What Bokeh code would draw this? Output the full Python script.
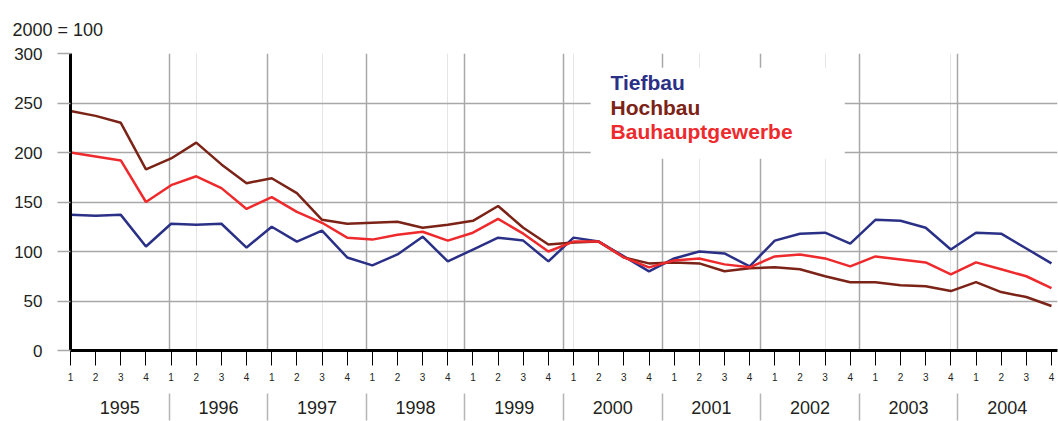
from bokeh.plotting import figure
from bokeh.models import Range1d, FixedTicker, LinearAxis, Label, BoxAnnotation, Grid, Title
from bokeh.embed import file_html
from bokeh.resources import INLINE

years = ["1995", "1996", "1997", "1998", "1999", "2000", "2001", "2002", "2003", "2004"]
quarters = ["1", "2", "3", "4"]
y_ticks = [0, 50, 100, 150, 200, 250, 300]

tiefbau = [137, 136, 137, 105,
           128, 127, 128, 104,
           125, 110, 121, 94,
           86, 97, 115, 90,
           102, 114, 111, 90,
           114, 110, 95, 80,
           93, 100, 98, 85,
           111, 118, 119, 108,
           132, 131, 124, 102,
           119, 118, 103, 88]

hochbau = [242, 237, 230, 183,
           194, 210, 188, 169,
           174, 159, 132, 128,
           129, 130, 124, 127,
           131, 146, 124, 107,
           109, 110, 94, 88,
           89, 88, 80, 83,
           84, 82, 75, 69,
           69, 66, 65, 60,
           69, 59, 54, 45]

bauhaupt = [200, 196, 192, 150,
            167, 176, 164, 143,
            155, 140, 129, 114,
            112, 117, 120, 111,
            119, 133, 118, 100,
            110, 110, 94, 84,
            91, 93, 87, 84,
            95, 97, 93, 85,
            95, 92, 89, 77,
            89, 82, 75, 63]

series_names = ["Tiefbau", "Hochbau", "Bauhauptgewerbe"]
series_colors = ["#2b3087", "#7b2316", "#ee2a2d"]

FONT = "Liberation Sans"
TXT = "#231f20"
GRID = "#a8a8a8"

n = len(tiefbau)
xs = list(range(n))
year_w = 3.92  # visual width of a year block in quarter units (as in the original)
boundaries = [round(k * year_w, 2) for k in range(1, len(years))]
centers = [round(k * year_w + year_w / 2, 2) for k in range(len(years))]

p = figure(width=1058, height=421, output_backend="svg", toolbar_location=None,
           x_range=Range1d(0, 39.24), y_range=Range1d(0, 300),
           x_axis_location=None, title="2000 = 100",
           min_border_left=70, min_border_right=1, min_border_top=53, min_border_bottom=71)
p.outline_line_color = None
p.background_fill_color = "white"
p.border_fill_color = "white"

p.title.align = "left"
p.title.offset = -58
p.title.standoff = 28
p.title.text_font = FONT
p.title.text_font_size = "18px"
p.title.text_font_style = "normal"
p.title.text_color = TXT

# y axis
ya = p.yaxis[0]
ya.ticker = FixedTicker(ticks=y_ticks)
ya.axis_line_color = "black"
ya.axis_line_width = 3
ya.major_tick_in = 0
ya.major_tick_out = 13
ya.major_tick_line_color = GRID
ya.major_tick_line_width = 1.5
ya.minor_tick_line_color = None
ya.major_label_text_font = FONT
ya.major_label_text_font_size = "17px"
ya.major_label_text_color = TXT
ya.major_label_standoff = 15

p.ygrid.ticker = FixedTicker(ticks=y_ticks)
p.ygrid.grid_line_color = GRID
p.ygrid.grid_line_width = 1.5

vgrid = Grid(dimension=0, ticker=FixedTicker(ticks=boundaries),
             grid_line_color=GRID, grid_line_width=1.5)
p.add_layout(vgrid)

# quarter axis
qa = LinearAxis(ticker=FixedTicker(ticks=xs),
                major_label_overrides={i: quarters[i % 4] for i in xs})
qa.axis_line_color = "black"
qa.axis_line_width = 3
qa.major_tick_in = 0
qa.major_tick_out = 15
qa.major_tick_line_color = "black"
qa.major_tick_line_width = 1
qa.minor_tick_line_color = None
qa.major_label_text_font = FONT
qa.major_label_text_font_size = "10px"
qa.major_label_text_color = TXT
qa.major_label_standoff = 7
p.add_layout(qa, "below")

# year axis (minor ticks act as year separators)
ya2 = LinearAxis(ticker=FixedTicker(ticks=centers, minor_ticks=boundaries),
                 major_label_overrides={c: years[i] for i, c in enumerate(centers)})
ya2.axis_line_color = None
ya2.major_tick_in = 0
ya2.major_tick_out = 0
ya2.major_tick_line_color = None
ya2.minor_tick_in = -10
ya2.minor_tick_out = 37
ya2.minor_tick_line_color = "#b5b5b5"
ya2.minor_tick_line_width = 1.5
ya2.major_label_text_font = FONT
ya2.major_label_text_font_size = "18px"
ya2.major_label_text_color = TXT
ya2.major_label_standoff = -20
p.add_layout(ya2, "below")

# lines
for vals, col in zip([tiefbau, hochbau, bauhaupt], series_colors):
    p.line(xs, vals, line_color=col, line_width=2.5)

# legend box (white, interrupting grid)
p.add_layout(BoxAnnotation(left=20.68, right=30.78, top=285.6, bottom=193.7,
                           fill_color="white", fill_alpha=1.0, line_color=None))

for i, (name, col) in enumerate(zip(series_names, series_colors)):
    p.add_layout(Label(x=21.47, y=270.4 - i * 24.8, text=name, text_color=col,
                       text_font=FONT, text_font_size="21px", text_font_style="bold",
                       text_baseline="middle", text_align="left"))

open("out.html", "w").write(file_html(p, INLINE))
